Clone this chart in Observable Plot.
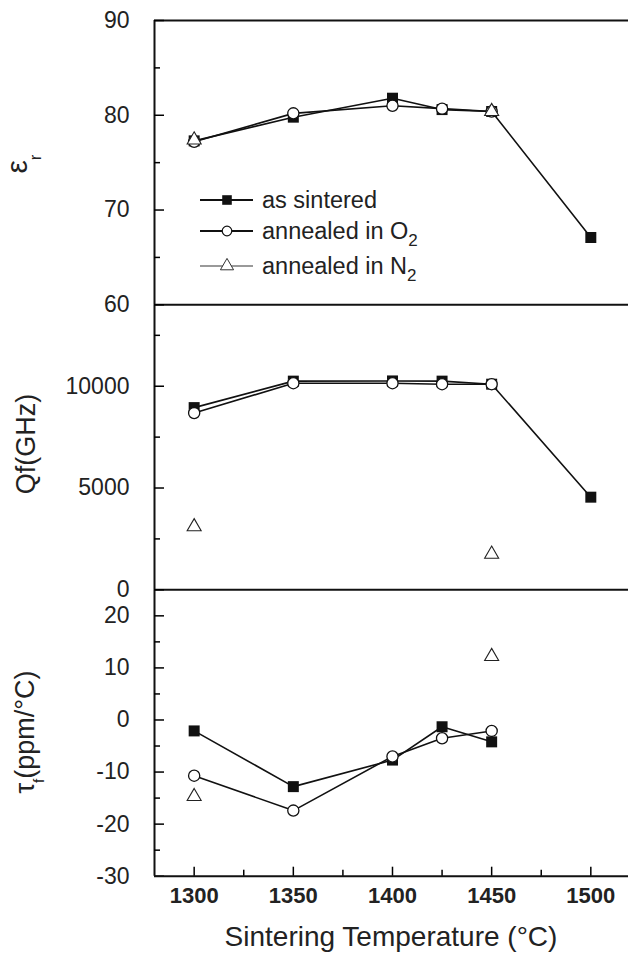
<!DOCTYPE html>
<html><head><meta charset="utf-8">
<script src="https://cdn.jsdelivr.net/npm/d3@7"></script>
<script src="https://cdn.jsdelivr.net/npm/@observablehq/plot@0.6"></script>
<style>
body{margin:0;background:#fff;}
#chart{position:relative;width:628px;height:954px;background:#fff;}
#chart svg{position:absolute;left:0;top:0;}
</style></head><body><div id="chart"></div>
<script>
// ---- data ----
const temps = [1300, 1350, 1400, 1425, 1450, 1500];   // as sintered
const tempsO2 = [1300, 1350, 1400, 1425, 1450];       // annealed in O2
const tempsN2 = [1300, 1450];                         // annealed in N2
const tempsTau = [1300, 1350, 1400, 1425, 1450];      // tau_f, as sintered

const erSintered = [77.3, 79.8, 81.8, 80.6, 80.4, 67.1];
const erO2 = [77.2, 80.2, 81.0, 80.7, 80.4];
const erN2 = [77.4, 80.4];

const qfSintered = [8950, 10250, 10260, 10250, 10100, 4550];
const qfO2 = [8680, 10150, 10150, 10100, 10100];
const qfN2 = [3100, 1750];

const tauSintered = [-2.1, -12.8, -7.7, -1.3, -4.2];
const tauO2 = [-10.7, -17.4, -7.0, -3.5, -2.1];
const tauN2 = [-14.7, 12.2];

const xTicks = [1300, 1350, 1400, 1450, 1500];
const xMinor = [1325, 1375, 1425, 1475];
const erTicks = [60, 70, 80, 90], erMinor = [65, 75, 85];
const qfTicks = [0, 5000, 10000], qfMinor = [2500, 7500, 12500];
const tauTicks = [-30, -20, -10, 0, 10, 20], tauMinor = [-25, -15, -5, 5, 15];

const legendLabels = ["as sintered", "annealed in O", "annealed in N"];
const legendSubs = [null, "2", "2"];

const FONT = "'Liberation Sans', Arial, Helvetica, sans-serif";
const W = 628, H = 954;
const XDOM = [1280, 1519];

const rows = (xs, ys) => xs.map((x, i) => ({x, y: ys[i]}));

function panel({top, bottom, domain, ticks, minor, s, o, n, xs, xo, xn, xAxis}) {
  const marks = [
    Plot.line(rows(xs, s), {x: "x", y: "y", stroke: "#111", strokeWidth: 1.6}),
    Plot.line(rows(xo, o), {x: "x", y: "y", stroke: "#111", strokeWidth: 1.6}),
    Plot.dot(rows(xs, s), {x: "x", y: "y", symbol: "square", r: 6.2, fill: "#111", stroke: "none"}),
    Plot.dot(rows(xo, o), {x: "x", y: "y", symbol: "circle", r: 5.6, fill: "white", stroke: "#111", strokeWidth: 1.3}),
    Plot.dot(rows(xn, n), {x: "x", y: "y", symbol: "triangle", r: 5.2, fill: "white", stroke: "#222", strokeWidth: 1.1}),
    Plot.ruleX([XDOM[0]], {stroke: "#111", strokeWidth: 2}),
    Plot.ruleY([domain[1]], {stroke: "#111", strokeWidth: 2}),
    Plot.axisY(ticks, {tickSize: -10, tickPadding: 35, fontSize: 23, fill: "#222", strokeWidth: 1.5, tickFormat: d => String(d), label: null}),
    Plot.axisY(minor, {tickSize: -6, tickPadding: 0, strokeWidth: 1.5, tickFormat: () => "", label: null})
  ];
  if (xAxis) {
    marks.push(
      Plot.ruleY([domain[0]], {stroke: "#111", strokeWidth: 2}),
      Plot.axisX(xTicks, {anchor: "bottom", tickSize: -9, tickPadding: 20, fontSize: 22, fontWeight: "bold", fill: "#222", strokeWidth: 1.5, tickFormat: d => String(d), label: null}),
      Plot.axisX(xMinor, {anchor: "bottom", tickSize: -6, tickPadding: 0, strokeWidth: 1.5, tickFormat: () => "", label: null})
    );
  }
  return Plot.plot({
    width: W, height: H,
    marginLeft: 154, marginRight: 0, marginTop: top, marginBottom: H - bottom,
    x: {domain: XDOM, axis: null},
    y: {domain, axis: null},
    style: {background: "transparent", fontFamily: FONT, overflow: "visible"},
    marks
  });
}

const chart = document.getElementById("chart");
const p1 = panel({top: 20, bottom: 304.3, domain: [60, 90], ticks: erTicks, minor: erMinor,
  s: erSintered, o: erO2, n: erN2, xs: temps, xo: tempsO2, xn: tempsN2});
const p2 = panel({top: 304.3, bottom: 589.3, domain: [0, 14000], ticks: qfTicks, minor: qfMinor,
  s: qfSintered, o: qfO2, n: qfN2, xs: temps, xo: tempsO2, xn: tempsN2});
const p3 = panel({top: 589.3, bottom: 875.7, domain: [-30, 25], ticks: tauTicks, minor: tauMinor,
  s: tauSintered, o: tauO2, n: tauN2, xs: tempsTau, xo: tempsO2, xn: tempsN2, xAxis: true});
chart.append(p3, p2, p1);

// ---- legend & labels (text) ----
const g = d3.select(p1).append("g").attr("font-family", FONT).attr("fill", "#222").attr("text-anchor", "start");
const legendY = [200, 231, 266];
const syms = [
  {type: d3.symbolSquare, size: 92, fill: "#111", stroke: "none", sw: 0, line: "#111", lw: 2},
  {type: d3.symbolCircle, size: 72, fill: "white", stroke: "#111", sw: 1.2, line: "#111", lw: 2},
  {type: d3.symbolTriangle, size: 75, fill: "white", stroke: "#333", sw: 1, line: "#777", lw: 1.5}
];
legendLabels.forEach((lab, i) => {
  const y = legendY[i], sy = syms[i];
  g.append("line").attr("x1", 200).attr("x2", 253).attr("y1", y).attr("y2", y)
    .attr("stroke", sy.line).attr("stroke-width", sy.lw);
  g.append("path").attr("d", d3.symbol(sy.type, sy.size)()).attr("transform", `translate(227,${y})`)
    .attr("fill", sy.fill).attr("stroke", sy.stroke).attr("stroke-width", sy.sw);
  const t = g.append("text").attr("x", 262).attr("y", y + 8).attr("text-anchor", "start")
    .attr("font-size", 23.5).text(lab);
  if (legendSubs[i]) t.append("tspan").attr("font-size", 17).attr("dy", 7).text(legendSubs[i]);
});

// y-axis labels
const l1 = g.append("text").attr("transform", "translate(27,164) rotate(-90)").attr("text-anchor", "middle").attr("font-size", 30);
l1.append("tspan").text("ε");
l1.append("tspan").attr("font-size", 17).attr("dy", 14).text("r");

g.append("text").attr("transform", "translate(35,444) rotate(-90)").attr("text-anchor", "middle")
  .attr("font-size", 27).text("Qf(GHz)");

const l3 = g.append("text").attr("transform", "translate(34,732) rotate(-90)").attr("text-anchor", "middle").attr("font-size", 27);
l3.append("tspan").text("τ");
l3.append("tspan").attr("font-size", 15).attr("dy", 10).text("f");
l3.append("tspan").attr("dy", -10).text("(ppm/°C)");

g.append("text").attr("x", 391).attr("y", 946).attr("text-anchor", "middle")
  .attr("font-size", 28).text("Sintering Temperature (°C)");
</script>
</body></html>
